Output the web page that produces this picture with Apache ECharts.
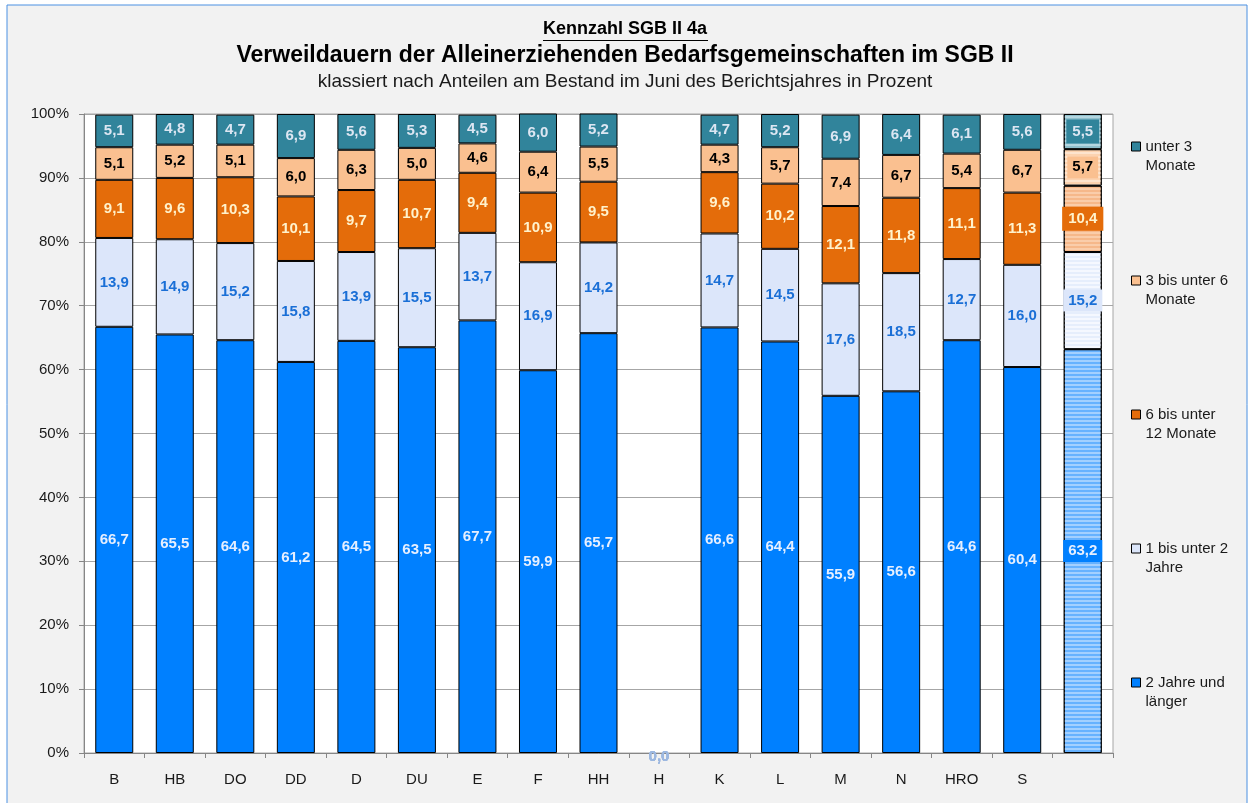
<!DOCTYPE html>
<html>
<head>
<meta charset="utf-8">
<script src="https://cdn.jsdelivr.net/npm/echarts@6/dist/echarts.min.js"></script>
<style>
html,body{margin:0;padding:0;background:#fff;}
#main{width:1250px;height:803px;}
</style>
</head>
<body>
<div id="main"></div>
<script>
// Kategorien (letzte Säule = Durchschnitt, ohne Beschriftung)
var categories = ['B','HB','DO','DD','D','DU','E','F','HH','H','K','L','M','N','HRO','S',''];

// Anteile in Prozent
var jahre2    = [66.7,65.5,64.6,61.2,64.5,63.5,67.7,59.9,65.7,0,66.6,64.4,55.9,56.6,64.6,60.4,63.2];
var jahre1bis2 = [13.9,14.9,15.2,15.8,13.9,15.5,13.7,16.9,14.2,0,14.7,14.5,17.6,18.5,12.7,16.0,15.2];
var monate6bis12 = [9.1,9.6,10.3,10.1,9.7,10.7,9.4,10.9,9.5,0,9.6,10.2,12.1,11.8,11.1,11.3,10.4];
var monate3bis6 = [5.1,5.2,5.1,6.0,6.3,5.0,4.6,6.4,5.5,0,4.3,5.7,7.4,6.7,5.4,6.7,5.7];
var unter3 = [5.1,4.8,4.7,6.9,5.6,5.3,4.5,6.0,5.2,0,4.7,5.2,6.9,6.4,6.1,5.6,5.5];

var yTicks = [0,10,20,30,40,50,60,70,80,90,100];

var fontFam = '"Liberation Sans", Arial, sans-serif';

function fmt(p){
    return p.value.toFixed(1).replace('.', ',');
}

//一个系列
function makeSeries(name, values, color, labelColor, hatch) {
    var last = values.length - 1;
    var data = values.map(function (v, i) {
        if (v === 0) {
            // leere Säule (H): kein Rahmen
            return {value: v, itemStyle: {borderWidth: 0}, label: {color: '#9db8e0', offset: [0, 4]}};
        }
        if (i != last) return v;
        return {
            value: v,
            itemStyle: {
                color: hatch.fill,
                decal: {
                    symbol: 'rect',
                    symbolSize: 1,
                    dashArrayX: [1, 0],
                    dashArrayY: [2, 2],
                    rotation: 0,
                    color: hatch.stripe
                }
            },
            label: {
                backgroundColor: color,
                padding: hatch.pad || [3, 4, 2, 4]
            }
        };
    });
    return {
        name: name,
        type: 'bar',
        stack: 'total',
        barWidth: 38,
        itemStyle: {
            color: color,
            borderColor: '#000',
            borderWidth: 1
        },
        label: {
            show: true,
            position: 'inside',
            formatter: fmt,
            color: labelColor,
            fontWeight: 'bold',
            fontSize: 15,
            fontFamily: fontFam
        },
        emphasis: {disabled: true},
        data: data
    };
}

var myChart = echarts.init(document.getElementById('main'));
var option = {
    animation: false,
    backgroundColor: '#fff',
    graphic: [
        {
            type: 'rect',
            z: -10,
            shape: {x: 7, y: 5, width: 1240, height: 805},
            style: {fill: '#f2f2f2', stroke: '#4a90e2', lineWidth: 1}
        },
        {
            type: 'text',
            left: 'center',
            top: 20,
            style: {
                text: 'Kennzahl SGB II 4a',
                font: 'bold 18px ' + fontFam,
                fill: '#000'
            }
        },
        {
            type: 'line',
            shape: {x1: 543, y1: 40.5, x2: 708, y2: 40.5},
            style: {stroke: '#000', lineWidth: 1}
        },
        {
            type: 'text',
            left: 'center',
            top: 44,
            style: {
                text: 'Verweildauern der Alleinerziehenden Bedarfsgemeinschaften im SGB II',
                font: 'bold 23px ' + fontFam,
                fill: '#000'
            }
        },
        {
            type: 'text',
            left: 'center',
            top: 72,
            style: {
                text: 'klassiert nach Anteilen am Bestand im Juni des Berichtsjahres in Prozent',
                font: '19px ' + fontFam,
                fill: '#1a1a1a'
            }
        }
    ],
    legend: {
        orient: 'vertical',
        left: 1126,
        top: 113,
        itemWidth: 9,
        itemHeight: 9,
        itemGap: 77,
        icon: 'rect',
        data: ['unter 3 Monate', '3 bis unter 6 Monate', '6 bis unter 12 Monate', '1 bis unter 2 Jahre', '2 Jahre und länger'],
        formatter: function (name) {
            var map = {
                'unter 3 Monate': '\nunter 3\nMonate',
                '3 bis unter 6 Monate': '\n3 bis unter 6\nMonate',
                '6 bis unter 12 Monate': '\n6 bis unter\n12 Monate',
                '1 bis unter 2 Jahre': '\n1 bis unter 2\nJahre',
                '2 Jahre und länger': '\n2 Jahre und\nlänger'
            };
            return map[name];
        },
        textStyle: {
            color: '#1a1a1a',
            fontSize: 15,
            fontFamily: fontFam,
            lineHeight: 19
        },
        itemStyle: {borderColor: '#000', borderWidth: 1}
    },
    grid: {
        left: 84,
        right: 137,
        top: 114,
        bottom: 50,
        show: true,
        backgroundColor: '#fff',
        borderColor: '#a6a6a6',
        borderWidth: 1
    },
    xAxis: {
        type: 'category',
        data: categories,
        axisLine: {lineStyle: {color: '#868686'}},
        axisTick: {show: true, length: 5, lineStyle: {color: '#868686'}},
        axisLabel: {
            color: '#1a1a1a',
            fontSize: 15,
            fontFamily: fontFam,
            margin: 19,
            interval: 0
        }
    },
    yAxis: {
        type: 'value',
        min: 0,
        max: 100,
        interval: 10,
        axisLine: {show: true, lineStyle: {color: '#868686'}},
        axisTick: {show: true, length: 5, lineStyle: {color: '#868686'}},
        axisLabel: {
            color: '#1a1a1a',
            fontSize: 15,
            fontFamily: fontFam,
            margin: 15,
            formatter: function (v) {
                return yTicks.indexOf(v) >= 0 ? v + '%' : '';
            }
        },
        splitLine: {show: true, lineStyle: {color: '#a6a6a6'}}
    },
    series: [
        makeSeries('2 Jahre und länger', jahre2, '#0080ff', '#e6efff',
            {fill: '#66b2ff', stripe: 'rgba(170,212,255,0.9)', pad: [4, 5, 3, 5]}),
        makeSeries('1 bis unter 2 Jahre', jahre1bis2, '#dce6fa', '#1a6fd6',
            {fill: '#f5f8ff', stripe: 'rgba(230,238,252,1)', pad: [4, 5, 3, 5]}),
        makeSeries('6 bis unter 12 Monate', monate6bis12, '#e46c0a', '#fff2cc',
            {fill: '#f6b88a', stripe: 'rgba(250,205,170,1)', pad: [5, 6, 4, 6]}),
        makeSeries('3 bis unter 6 Monate', monate3bis6, '#fac090', '#000',
            {fill: '#fcd3b0', stripe: 'rgba(253,228,206,1)', pad: [4, 5, 3, 5]}),
        makeSeries('unter 3 Monate', unter3, '#31849b', '#dce6f2',
            {fill: '#8fbfcc', stripe: 'rgba(180,214,224,1)', pad: [5, 6, 4, 6]})
    ]
};
myChart.setOption(option);
</script>
</body>
</html>
